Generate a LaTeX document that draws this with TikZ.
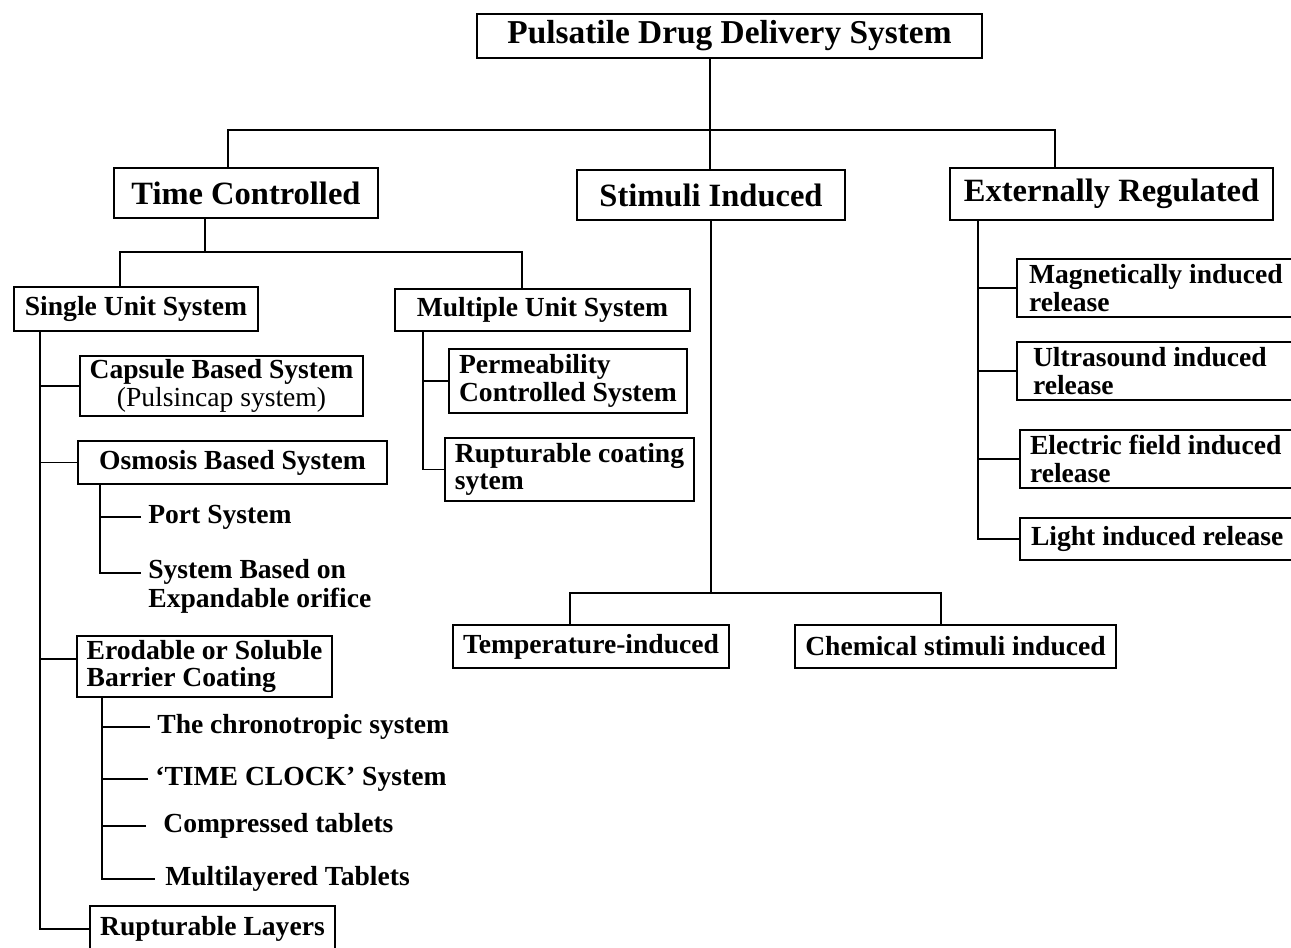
\documentclass[tikz,border=0pt]{standalone}
\usepackage{fontspec}
\setmainfont{Liberation Serif}

\begin{document}
\begin{tikzpicture}[x=0.02cm,y=-0.02cm]
    \tikzstyle{box}=[rectangle,draw,line width=1pt,inner xsep=0.2cm,inner ysep=0pt,font=\bfseries\fontsize{15.7}{15.5}\selectfont]
    \tikzstyle{topbox}=[box,font=\bfseries\fontsize{18.5}{20}\selectfont]
    \tikzstyle{leaf}=[anchor=west,inner xsep=0.14cm,inner ysep=0pt,font=\bfseries\fontsize{15.7}{16.5}\selectfont]
    \tikzstyle{branch}=[draw,line width=1pt]
    \useasboundingbox (0,0) rectangle (1291,947);
    % levels one and two
    \node (root)     at (729.5,36)   [topbox,minimum width=10.1cm,minimum height=0.88cm,font=\bfseries\fontsize{19}{20}\selectfont] {Pulsatile Drug Delivery System};
    \node (time)     at (246,193)    [topbox,minimum width=5.28cm,minimum height=1cm] {Time Controlled};
    \node (stim)     at (711,195)    [topbox,minimum width=5.36cm,minimum height=1cm] {Stimuli Induced};
    \node (ext)      at (1111.5,194) [topbox,minimum width=6.46cm,minimum height=1.04cm] {Externally Regulated};
    % time controlled
    \node (single)   at (136,309)    [box,minimum width=4.88cm,minimum height=0.88cm] {Single Unit System};
    \node (multi)    at (542.5,310)  [box,minimum width=5.9cm,minimum height=0.84cm] {Multiple Unit System};
    \node (capsule)  at (221.5,386)  [box,minimum width=5.66cm,minimum height=1.2cm,align=center] {Capsule Based System\\{\mdseries (Pulsincap system)}};
    \node (osmosis)  at (232.5,462.5) [box,minimum width=6.18cm,minimum height=0.86cm] {Osmosis Based System};
    \node (erode)    at (204.5,666.5) [box,minimum width=4.9cm,minimum height=1.22cm,align=flush left] {Erodable or Soluble\\Barrier Coating};
    \node (rlayers)  at (212.5,929)  [box,minimum width=4.9cm,minimum height=0.92cm] {Rupturable Layers};
    \node (perm)     at (568,381)    [box,minimum width=4.6cm,minimum height=1.28cm,align=flush left] {Permeability\\Controlled System};
    \node (rcoat)    at (569.5,469.5) [box,minimum width=4.94cm,minimum height=1.26cm,align=flush left] {Rupturable coating\\sytem};
    \node (port)     at (141,517)    [leaf] {Port System};
    \node (expand)   at (141,586)    [leaf,align=flush left] {System Based on\\Expandable orifice};
    \node (chrono)   at (150,727)    [leaf] {The chronotropic system};
    \node (clock)    at (148,779)    [leaf] {‘TIME CLOCK’ System};
    \node (compress) at (146,826)    [leaf,inner xsep=0.34cm] {Compressed tablets};
    \node (mlayer)   at (155,879)    [leaf,inner xsep=0.2cm] {Multilayered Tablets};
    % stimuli induced
    \node (temp)     at (591,646.5)  [box,minimum width=5.28cm,minimum height=0.86cm] {Temperature-induced};
    \node (chem)     at (955.5,646.5) [box,minimum width=6.38cm,minimum height=0.86cm] {Chemical stimuli induced};
    % externally regulated
    \node (magnet)   at (1178.5,288) [box,minimum width=6.46cm,minimum height=1.16cm,text width=5.98cm,align=flush left] {Magnetically induced\\release};
    \node (ultra)    at (1178.5,371) [box,minimum width=6.46cm,minimum height=1.16cm,text width=5.82cm,align=flush left] {Ultrasound induced\\release};
    \node (electric) at (1180,459)   [box,minimum width=6.4cm,minimum height=1.16cm,text width=6.0cm,align=flush left] {Electric field induced\\release};
    \node (light)    at (1180,539)   [box,minimum width=6.4cm,minimum height=0.84cm,text width=5.96cm,align=flush left] {Light induced release};
    % connectors
    \coordinate (bus) at (710,130);
    \draw [branch] (root.south -| bus) -- (bus) -- (stim.north -| bus);
    \draw [branch] ([xshift=-0.36cm]time.north) |- (bus) -| ([xshift=-1.13cm]ext.north);
    \coordinate (tbus) at (205,252);
    \draw [branch] (time.south -| tbus) -- (tbus);
    \draw [branch] ([xshift=-0.32cm]single.north) |- (tbus) -| ([xshift=-0.41cm]multi.north);
    \coordinate (sspine) at ([xshift=-1.92cm]single.south);
    \draw [branch] (sspine) |- (rlayers.west);
    \foreach \n in {capsule,osmosis} \draw [branch] (\n.west) -- (\n.west -| sspine);
    \draw [branch] ([yshift=0.15cm]erode.west) -- ([yshift=0.15cm]erode.west -| sspine);
    \coordinate (ospine) at ([xshift=-2.65cm]osmosis.south);
    \draw [branch] (ospine) |- ([yshift=0.26cm]expand.west);
    \draw [branch] (port.west) -- (port.west -| ospine);
    \coordinate (espine) at ([xshift=-2.05cm]erode.south);
    \draw [branch] (espine) |- (mlayer.west);
    \foreach \n in {chrono,clock,compress} \draw [branch] (\n.west) -- (\n.west -| espine);
    \coordinate (mspine) at ([xshift=-2.39cm]multi.south);
    \draw [branch] (mspine) |- (rcoat.west);
    \draw [branch] (perm.west) -- (perm.west -| mspine);
    \coordinate (sbus) at (711,593);
    \draw [branch] (stim.south) -- (sbus);
    \draw [branch] ([xshift=-0.42cm]temp.north) |- (sbus) -| ([xshift=-0.29cm]chem.north);
    \coordinate (xspine) at ([xshift=-2.67cm]ext.south);
    \draw [branch] (xspine) |- (light.west);
    \foreach \n in {magnet,ultra,electric} \draw [branch] (\n.west) -- (\n.west -| xspine);
\end{tikzpicture}
\end{document}
